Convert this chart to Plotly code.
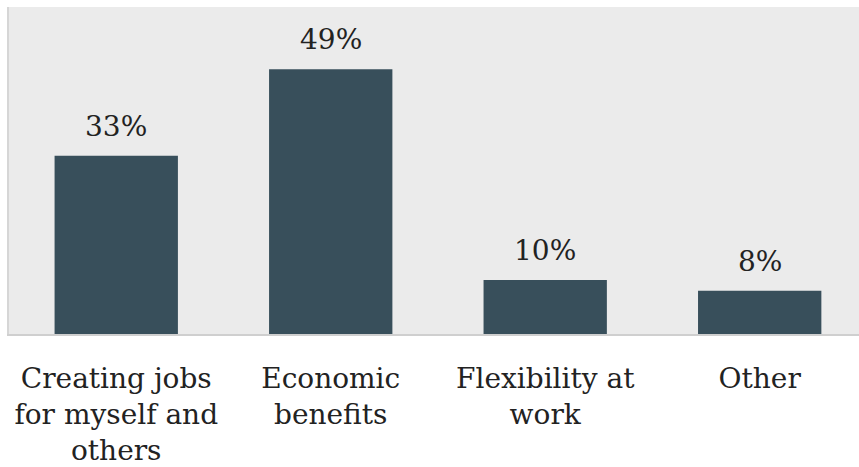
import plotly.graph_objects as go

categories = ["Creating jobs<br>for myself and<br>others", "Economic<br>benefits", "Flexibility at<br>work", "Other"]
values = [33, 49, 10, 8]
value_labels = ["33%", "49%", "10%", "8%"]

FONT = "DejaVu Serif"
fig = go.Figure()
fig.add_trace(go.Bar(
    x=list(range(len(categories))), y=values,
    marker=dict(color="#384f5b", line=dict(width=0)),
    width=0.575,
    hoverinfo="skip",
))
for i, (v, t) in enumerate(zip(values, value_labels)):
    fig.add_annotation(x=i, y=v, text=t, showarrow=False, yanchor="bottom",
                       yshift=11, font=dict(family=FONT, size=28, color="#222222"))

fig.update_layout(
    width=859, height=467,
    margin=dict(l=9, r=0, t=7, b=127),
    paper_bgcolor="white", plot_bgcolor="#ebebeb",
    showlegend=False,
)
fig.update_xaxes(
    range=[-0.5, 3.463],
    tickmode="array", tickvals=list(range(len(categories))), ticktext=categories,
    tickfont=dict(family=FONT, size=28, color="#222222"),
    showgrid=False, zeroline=False,
    showline=True, linecolor="#cfcfcf", linewidth=2,
    ticks="", ticklabelstandoff=18,
)
fig.update_yaxes(
    range=[0, 60.5], showticklabels=False, showgrid=False, zeroline=False,
    showline=True, linecolor="#d6d6d6", linewidth=2, mirror=False,
)
fig.write_html(
    "out.html",
    config={"displayModeBar": False},
    post_script="document.body.style.margin='0';document.body.style.overflow='hidden';",
)
